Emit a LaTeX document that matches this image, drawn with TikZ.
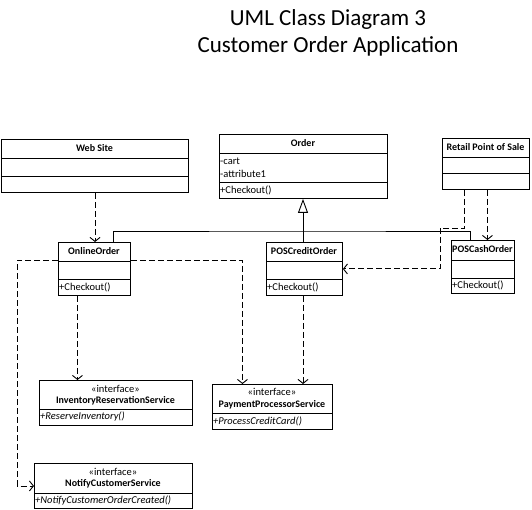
\documentclass[tikz,border=0pt]{standalone}
\usepackage{fontspec}
\setmainfont{Carlito}
\usetikzlibrary{arrows.meta,positioning,calc}

\begin{document}
\begin{tikzpicture}[
    x=1pt, y=-1pt,
    classbox/.style={
        rectangle,
        draw,
        line width=0.9pt,
        anchor=north west,
        inner sep=0pt
    },
    classname/.style={
        font=\fontsize{10}{12}\selectfont\bfseries,
        inner sep=0pt
    },
    member/.style={
        font=\fontsize{10.5}{12}\selectfont,
        anchor=west,
        inner sep=0pt
    },
    stereo/.style={
        font=\fontsize{10.5}{12}\selectfont,
        inner sep=0pt
    },
    divider/.style={
        line width=0.9pt
    },
    dep/.style={
        -{Straight Barb[length=4pt,width=10pt]},
        dash pattern=on 6pt off 3pt,
        line width=0.9pt
    },
    inherit/.style={
        -{Triangle[open,length=14pt,width=10pt,fill=white]},
        line width=0.9pt
    },
    link/.style={
        line width=0.9pt
    }
]

\useasboundingbox (0,0) rectangle (532,510);

% =========================
% Title
% =========================

\node[align=center, font=\fontsize{23}{27}\selectfont] (title) at (328,33)
{UML Class Diagram 3\\Customer Order Application};

% =========================
% Top row
% =========================

\node[classbox, minimum width=187pt, minimum height=53pt] (website) at (1,139) {};
\node[classname] (website-name) at (94.5,148) {Web Site};
\draw[divider] (website.west |- 0,158) -- (website.east |- 0,158);
\draw[divider] (website.west |- 0,176) -- (website.east |- 0,176);

\node[classbox, minimum width=168pt, minimum height=64pt] (order) at (219,134) {};
\node[classname] (order-name) at (303,143) {Order};
\draw[divider] (order.west |- 0,153) -- (order.east |- 0,153);
\node[member] (order-cart) at (220,161) {-cart};
\node[member] (order-attr) at (220,173.5) {-attribute1};
\draw[divider] (order.west |- 0,182) -- (order.east |- 0,182);
\node[member] (order-checkout) at (220,190) {+Checkout()};

\node[classbox, minimum width=87pt, minimum height=51pt] (retail) at (442,138) {};
\node[classname] (retail-name) at (485.5,147) {Retail Point of Sale};
\draw[divider] (retail.west |- 0,157) -- (retail.east |- 0,157);
\draw[divider] (retail.west |- 0,173) -- (retail.east |- 0,173);

% =========================
% Order subclasses
% =========================

\node[classbox, minimum width=72pt, minimum height=53pt] (online) at (58,242) {};
\node[classname] (online-name) at (94,251) {OnlineOrder};
\draw[divider] (online.west |- 0,261) -- (online.east |- 0,261);
\draw[divider] (online.west |- 0,279) -- (online.east |- 0,279);
\node[member] (online-checkout) at (59,287) {+Checkout()};

\node[classbox, minimum width=76pt, minimum height=53pt] (poscredit) at (266,242) {};
\node[classname] (poscredit-name) at (304,251) {POSCreditOrder};
\draw[divider] (poscredit.west |- 0,261) -- (poscredit.east |- 0,261);
\draw[divider] (poscredit.west |- 0,279) -- (poscredit.east |- 0,279);
\node[member] (poscredit-checkout) at (267,287) {+Checkout()};

\node[classbox, minimum width=63pt, minimum height=53pt] (poscash) at (451,240) {};
\node[classname] (poscash-name) at (482.5,249) {POSCashOrder};
\draw[divider] (poscash.west |- 0,260) -- (poscash.east |- 0,260);
\draw[divider] (poscash.west |- 0,278) -- (poscash.east |- 0,278);
\node[member] (poscash-checkout) at (452,285) {+Checkout()};

% =========================
% Interfaces
% =========================

\node[classbox, minimum width=153pt, minimum height=45pt] (inventory) at (39,380) {};
\node[stereo] (inventory-stereo) at (115.5,389) {«interface»};
\node[classname] (inventory-name) at (115.5,401) {InventoryReservationService};
\draw[divider] (inventory.west |- 0,409) -- (inventory.east |- 0,409);
\node[member, font=\fontsize{10.5}{12}\selectfont\itshape] (inventory-op) at (40,417) {+ReserveInventory()};

\node[classbox, minimum width=120pt, minimum height=45pt] (payment) at (212,384) {};
\node[stereo] (payment-stereo) at (272,392) {«interface»};
\node[classname] (payment-name) at (272,405) {PaymentProcessorService};
\draw[divider] (payment.west |- 0,413) -- (payment.east |- 0,413);
\node[member, font=\fontsize{10.5}{12}\selectfont\itshape] (payment-op) at (213,421) {+ProcessCreditCard()};

\node[classbox, minimum width=158pt, minimum height=45pt] (notify) at (34,463) {};
\node[stereo] (notify-stereo) at (113,472) {«interface»};
\node[classname] (notify-name) at (113,484) {NotifyCustomerService};
\draw[divider] (notify.west |- 0,493) -- (notify.east |- 0,493);
\node[member, font=\fontsize{10.5}{12}\selectfont\itshape] (notify-op) at (35,500.5) {+NotifyCustomerOrderCreated()};

% =========================
% Generalization
% =========================

\coordinate (joint) at (303,231);

\draw[inherit] (poscredit.north -| 303,0) -- (order.south -| 303,0);
\draw[link] ([xshift=19pt]online.north) |- (joint) -| ([xshift=-12.5pt]poscash.north);

% =========================
% Dependencies
% =========================

\draw[dep] (website.south -| 95,0) -- (online.north -| 95,0);

\coordinate (retailbend) at (440,228);
\draw[dep] ([xshift=-21.5pt]retail.south) |- (retailbend) |- (poscredit.east);
\draw[dep] ([xshift=1.5pt]retail.south) -- ([xshift=1.5pt]retail.south |- poscash.north);

\draw[dep] ([yshift=8.5pt]online.west) -- ++(-41,0) |- (notify.west);
\draw[dep] ([yshift=8.5pt]online.east) -| ([xshift=-30pt]payment.north);
\draw[dep] ([xshift=-17pt]online.south) -- ([xshift=-17pt]online.south |- inventory.north);
\draw[dep] (poscredit.south -| 303,0) -- (payment.north -| 303,0);

\end{tikzpicture}
\end{document}
